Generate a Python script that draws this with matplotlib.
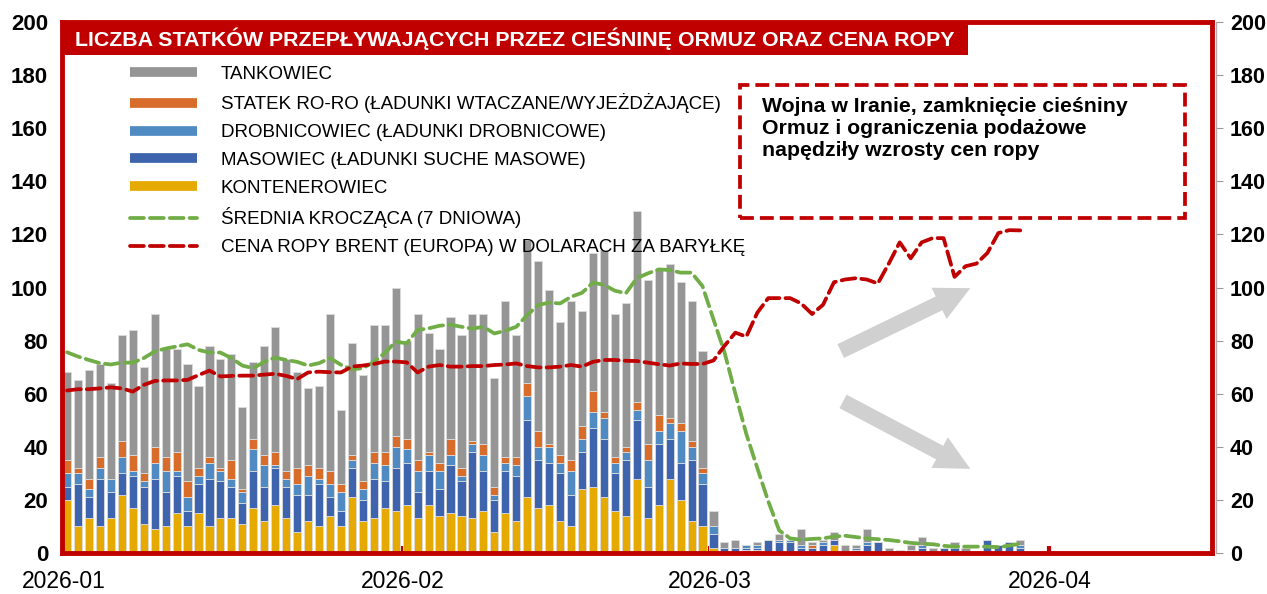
import matplotlib
matplotlib.use("Agg")
import matplotlib.pyplot as plt
import numpy as np
import pandas as pd
from matplotlib.lines import Line2D
from matplotlib.patches import Rectangle, FancyArrowPatch

plt.rcParams['font.family'] = ['Liberation Sans', 'DejaVu Sans']

# dzienne dane: 2026-01-01 .. 2026-03-29
dni = pd.date_range("2026-01-01", "2026-03-29", freq="D")

kontenerowiec = [20, 10, 13, 10, 13, 22, 17, 11, 9, 10, 15, 10, 15, 10, 13, 13, 11, 17, 12, 18, 13, 8, 12, 10, 14, 10, 21, 12, 13, 17, 16,
                 18, 13, 18, 14, 15, 14, 13, 16, 8, 15, 12, 21, 17, 18, 12, 10, 24, 25, 21, 16, 14, 28, 13, 18, 28, 20, 12, 10,
                 2, 0, 0, 1, 1, 0, 0, 0, 0, 0, 0, 3, 0, 0, 0, 0, 0, 0, 0, 0, 0, 0, 0, 0, 0, 0, 0, 0, 0]
masowiec = [5, 16, 8, 18, 10, 8, 12, 14, 19, 13, 14, 6, 11, 18, 14, 12, 8, 14, 13, 14, 12, 14, 10, 16, 7, 6, 11, 8, 15, 10, 16,
            16, 10, 13, 10, 18, 13, 25, 15, 12, 16, 17, 29, 18, 16, 18, 12, 14, 22, 22, 14, 21, 22, 12, 23, 15, 14, 23, 16,
            5, 2, 2, 1, 1, 5, 4, 4, 2, 2, 3, 2, 0, 1, 3, 4, 0, 1, 1, 2, 0, 2, 2, 0, 0, 5, 3, 4, 2]
drobnicowiec = [5, 4, 3, 4, 5, 6, 2, 2, 6, 8, 2, 5, 3, 6, 4, 3, 4, 8, 8, 1, 3, 4, 7, 2, 5, 7, 3, 4, 6, 6, 8,
                5, 8, 6, 7, 4, 2, 3, 6, 2, 3, 4, 9, 5, 6, 4, 9, 5, 6, 8, 4, 3, 4, 10, 5, 6, 12, 5, 4,
                3, 0, 0, 1, 1, 0, 1, 1, 1, 0, 1, 0, 0, 1, 1, 0, 0, 0, 0, 1, 0, 0, 0, 0, 0, 0, 0, 0, 1]
ro_ro = [5, 2, 4, 4, 0, 6, 6, 3, 6, 5, 7, 6, 3, 2, 1, 7, 1, 4, 4, 5, 3, 6, 4, 4, 5, 3, 2, 3, 4, 5, 4,
         4, 4, 1, 3, 6, 3, 1, 4, 3, 2, 3, 5, 6, 1, 3, 4, 5, 8, 2, 2, 2, 3, 6, 6, 2, 3, 2, 2,
         0, 0, 0, 0, 0, 0, 0, 0, 0, 1, 0, 0, 0, 0, 0, 0, 0, 0, 0, 0, 0, 0, 0, 0, 0, 0, 0, 0, 0]
tankowiec = [33, 33, 41, 35, 36, 40, 47, 40, 50, 41, 39, 44, 31, 42, 41, 40, 31, 29, 41, 47, 42, 36, 29, 31, 59, 28, 42, 40, 48, 48, 56,
             37, 55, 45, 43, 46, 50, 48, 49, 41, 59, 46, 54, 64, 58, 50, 60, 43, 52, 61, 54, 54, 72, 62, 55, 58, 53, 53, 44,
             6, 2, 3, 0, 1, 0, 2, 0, 6, 1, 1, 3, 3, 1, 5, 0, 2, 0, 2, 3, 2, 0, 2, 2, 0, 0, 0, 0, 2]

srednia_7d = [75.6, 74, 72.7, 71.5, 71, 71.7, 71.7, 73.4, 75.9, 77, 77.8, 78.6, 76.5, 75.5, 75.5, 73.4, 70.6, 69.6, 72, 73.6,
              72.7, 72, 70.6, 71.5, 73.4, 70.9, 69.2, 69.6, 72, 75.3, 79.6,
              79, 84, 84.6, 85.6, 86, 85.2, 84.5, 85.2, 82.7, 83.7, 85.2, 89.6, 93.4, 94.3, 94, 96.5, 98, 101.8, 101, 98.8,
              97.8, 103.5, 105.3, 106.8, 106.6, 105.6, 105.6, 100.5,
              88, 75.7, 60, 44.8, 32, 19.5, 8.5, 5.5, 5, 5.3, 5.5, 6.2, 6.5, 6, 5.5, 5.2, 4.9, 4.4, 3.8, 3.5, 3.3, 2.7,
              2.4, 2.4, 2.4, 2.4, 2.2, 2.8, 3.5]
brent = [61.2, 61.7, 61.7, 62, 62.4, 62, 60.8, 63.3, 64.8, 65, 65, 65.2, 67, 68.7, 66.5, 66.7, 66.8, 66.8, 67.2, 67.5,
         66.7, 65.5, 68, 68.3, 68.1, 68, 70.2, 70.6, 71.2, 72.1, 72.1,
         71.8, 68, 70.2, 70.8, 70.2, 70.2, 70.4, 70.4, 70.8, 71, 71.4, 70.4, 69.9, 69.9, 70.2, 70.8, 70.2, 72, 72.7, 72.7,
         72.4, 72.3, 71.7, 71.1, 70.6, 71.4, 71.2, 71.2,
         72.5, 78, 83, 81.5, 90.5, 96, 96, 96, 94, 90, 93.5, 102, 103, 103.5, 103, 101.5, 109, 117, 111, 117, 118.6,
         118.6, 104, 108, 109, 113, 120.5, 121.6, 121.5]

miesiace = ["2026-01", "2026-02", "2026-03", "2026-04"]
osie_y = list(range(0, 201, 20))

serie = [
    ("KONTENEROWIEC", kontenerowiec, "#e6a900"),
    ("MASOWIEC (ŁADUNKI SUCHE MASOWE)", masowiec, "#3d64ad"),
    ("DROBNICOWIEC (ŁADUNKI DROBNICOWE)", drobnicowiec, "#4f8bc2"),
    ("STATEK RO-RO (ŁADUNKI WTACZANE/WYJEŻDŻAJĄCE)", ro_ro, "#d86c2a"),
    ("TANKOWIEC", tankowiec, "#959595"),
]
CZERWONY = "#c00000"
ZIELONY = "#70ad47"

fig = plt.figure(figsize=(12.67, 5.94), dpi=100)
ax = fig.add_axes([62 / 1267, 41 / 594, 1150 / 1267, 531 / 594])

dol = np.zeros(len(dni))
for nazwa, wart, kolor in serie:
    wart = np.array(wart, dtype=float)
    ax.bar(dni, wart, bottom=dol, width=0.74, color=kolor, edgecolor="#dcdcdc", linewidth=0.6, zorder=2)
    dol += wart

ax.plot(dni, srednia_7d, color=ZIELONY, lw=2.7, ls="--", dash_capstyle="round", zorder=3)
ax.plot(dni, brent, color=CZERWONY, lw=2.7, ls="--", dash_capstyle="round", zorder=4)

ax.set_ylim(0, 200)
ax.set_xlim(dni[0] - pd.Timedelta(hours=11), pd.Timestamp("2026-04-15 12:00"))
ax.set_yticks(osie_y, labels=[str(v) for v in osie_y], fontweight="bold", fontsize=16)
ax.set_xticks([pd.Timestamp(m + "-01") - pd.Timedelta(hours=8) for m in miesiace])
ax.set_xticklabels(miesiace, fontsize=16.5)
ax.tick_params(axis="x", direction="in", length=5, width=3, color=CZERWONY, pad=12)
ax.tick_params(axis="y", length=0, pad=10)

for s in ax.spines.values():
    s.set_color(CZERWONY)
    s.set_linewidth(3.5)

ax2 = ax.twinx()
for nazwa_s, s in ax2.spines.items():
    s.set_visible(nazwa_s == "right")
ax2.spines["right"].set_position(("outward", 3))
ax2.spines["right"].set_color("#b0b0b0")
ax2.spines["right"].set_linewidth(1)
ax2.set_ylim(0, 200)
ax2.set_yticks(osie_y, labels=[str(v) for v in osie_y], fontweight="bold", fontsize=15.5)
ax2.tick_params(axis="y", direction="out", length=5, color="#999999", pad=5)

# pasek tytulu
ax.add_patch(Rectangle((0, 0.938), 0.788, 0.062, transform=ax.transAxes, facecolor=CZERWONY,
                       edgecolor="none", clip_on=False, zorder=6))
ax.text(0.011, 0.968, "LICZBA STATKÓW PRZEPŁYWAJĄCYCH PRZEZ CIEŚNINĘ ORMUZ ORAZ CENA ROPY",
        transform=ax.transAxes, color="white", fontsize=15.4, fontweight="bold", va="center", ha="left", zorder=7)

# legenda
uchwyty = [Line2D([], [], color=k, lw=7, solid_capstyle="butt") for _, _, k in serie[::-1]]
etykiety = [n for n, _, _ in serie[::-1]]
uchwyty += [Line2D([], [], color=ZIELONY, lw=2.7, ls="--", dash_capstyle="round"),
            Line2D([], [], color=CZERWONY, lw=2.7, ls="--", dash_capstyle="round")]
etykiety += ["ŚREDNIA KROCZĄCA (7 DNIOWA)", "CENA ROPY BRENT (EUROPA) W DOLARACH ZA BARYŁKĘ"]
leg = ax.legend(uchwyty, etykiety, loc="upper left", bbox_to_anchor=(0.059, 0.918), frameon=False,
                fontsize=13.5, handlelength=3.6, handletextpad=1.25, labelspacing=0.57,
                borderpad=0, borderaxespad=0)
leg.set_zorder(8)

# ramka z komentarzem
ax.add_patch(Rectangle((0.5896, 0.631), 0.387, 0.25, transform=ax.transAxes, facecolor="white",
                       edgecolor=CZERWONY, lw=2.7, ls="--", zorder=6))
ax.text(0.6087, 0.858, "Wojna w Iranie, zamknięcie cieśniny\nOrmuz i ograniczenia podażowe\nnapędziły wzrosty cen ropy",
        transform=ax.transAxes, fontsize=15.3, fontweight="bold", va="top", ha="left", linespacing=1.17, zorder=7)

# strzalki
for start, koniec in [((0.675, 0.378), (0.792, 0.501)), ((0.677, 0.288), (0.792, 0.156))]:
    ax.add_patch(FancyArrowPatch(start, koniec, transform=ax.transAxes,
                                 arrowstyle="simple,head_length=1.25,head_width=1.25,tail_width=0.55",
                                 mutation_scale=20, color="#d0d0d0", lw=0, zorder=5))

fig.savefig("out.png", dpi=100)
